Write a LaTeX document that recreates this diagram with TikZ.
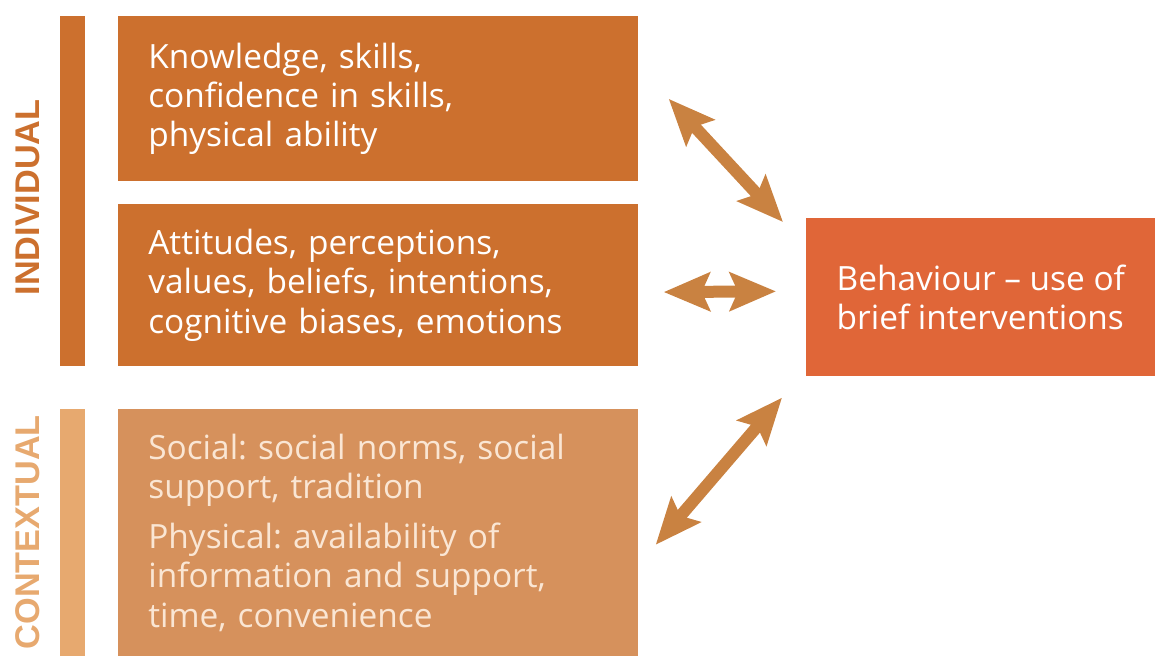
\documentclass[tikz,border=0pt]{standalone}
\usepackage{fontspec}
\setmainfont{Open Sans}
\newfontfamily\sidefont{Liberation Sans}
\usepackage{tikz}
\usetikzlibrary{arrows.meta,positioning}

\definecolor{indivorange}{HTML}{CC702E}
\definecolor{contextorange}{HTML}{D6915C}
\definecolor{contextbar}{HTML}{E7A96F}
\definecolor{behavred}{HTML}{E06638}
\definecolor{arrowbrown}{HTML}{C98241}
\definecolor{creamtext}{HTML}{FAE6D4}

\frenchspacing
\begin{document}
\begin{tikzpicture}[
    font=\fontsize{19}{22.4}\selectfont,
    box/.style={anchor=north west, align=left, text width=9.2cm, inner xsep=6mm, inner ysep=0pt, text=white, fill=indivorange},
    target/.style={anchor=north west, align=left, minimum width=6.98cm, minimum height=3.16cm, text=white, fill=behavred},
    bar/.style={anchor=north east, minimum width=5mm, inner sep=0pt},
    side/.style={rotate=90, font=\sidefont\bfseries\fontsize{19.5}{20}\selectfont},
    arrow/.style={{Stealth[length=9.2mm, width=7.6mm, inset=1.6mm]}-{Stealth[length=9.2mm, width=7.6mm, inset=1.6mm]}, line width=2.4mm, draw=arrowbrown, fill=arrowbrown}
]
\useasboundingbox (0,0) rectangle (23.1,-13.1);

\node[box, minimum height=3.3cm] (skills) at (2.36,-0.32) {Knowledge, skills,\\confidence in skills,\\physical ability};
\node[box, minimum height=3.24cm, below=0.44cm of skills] (attitudes) {Attitudes, perceptions,\\values, beliefs, intentions,\\cognitive biases, emotions};
\node[box, minimum height=4.96cm, below=0.84cm of attitudes, fill=contextorange, text=creamtext] (context) {Social: social norms, social\\support, tradition\\[6pt]Physical: availability of\\information and support,\\time, convenience};

\node[target] (behaviour) at (16.12,-4.36) {Behaviour -- use of\\brief interventions};

% side bars and labels
\node[bar, minimum height=7cm, fill=indivorange] (indbar) at ([xshift=-6.6mm]skills.north west) {};
\node[bar, minimum height=4.94cm, fill=contextbar] (ctxbar) at ([xshift=-6.6mm]context.north west) {};
\node[side, text=indivorange] (indlabel) at ([xshift=-8.9mm, yshift=-1.2mm]indbar.center) {INDIVIDUAL};
\node[side, text=contextbar] (ctxlabel) at ([xshift=-8.9mm]ctxbar.center) {CONTEXTUAL};

\draw[arrow] ([xshift=6mm]skills.east) -- ([shift={(-4.6mm,-0.8mm)}]behaviour.north west);
\draw[arrow] ([shift={(5mm,-1.4mm)}]attitudes.east) -- ([shift={(-6mm,1.2mm)}]behaviour.west);
\draw[arrow] ([shift={(3.4mm,-2.4mm)}]context.east) -- ([shift={(-4.8mm,-4.2mm)}]behaviour.south west);
\end{tikzpicture}
\end{document}
